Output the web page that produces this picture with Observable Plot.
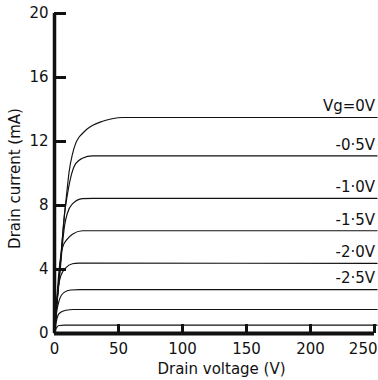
<!DOCTYPE html>
<html><head><meta charset="utf-8">
<script src="https://cdn.jsdelivr.net/npm/d3@7"></script>
<script src="https://cdn.jsdelivr.net/npm/@observablehq/plot@0.6"></script>
<style>body{margin:0;background:#fff;} svg{display:block}</style>
</head><body><div id="chart"></div>
<script>
// Gate voltages and curve labels
const gateVoltages = ["0", "-0.5", "-1.0", "-1.5", "-2.0", "-2.5", "-3.0", "-3.5"];
const curveLabels = ["Vg=0V", "-0·5V", "-1·0V", "-1·5V", "-2·0V", "-2·5V", "", ""];

// Drain voltage (V) / drain current (mA), one pair per curve
const v0 = [0, 2, 4.5, 6.5, 8.8, 10, 11.4, 14, 16.4, 19, 21.8, 25, 29.6, 37, 45, 53, 252];
const i0 = [0, 2, 4.3, 6.3, 8.2, 9.1, 10.1, 11.2, 11.85, 12.25, 12.5, 12.75, 13.0, 13.25, 13.42, 13.5, 13.5];
const v1 = [0, 2, 4.5, 6.5, 8.0, 9.3, 12.5, 16.4, 21.8, 29.6, 252];
const i1 = [0, 2, 4.3, 6.3, 7.6, 8.3, 9.7, 10.6, 10.95, 11.1, 11.1];
const v2 = [0, 2, 4.5, 6.5, 8, 10, 14, 21.8, 30, 252];
const i2 = [0, 1.9, 4.0, 5.8, 6.8, 7.5, 8.1, 8.43, 8.45, 8.45];
const v3 = [0, 1.5, 3.5, 6.2, 10, 14, 21.8, 252];
const i3 = [0, 1.8, 3.9, 5.36, 5.9, 6.2, 6.42, 6.42];
const v4 = [0, 1, 2.5, 4.9, 8.8, 14, 19, 252];
const i4 = [0, 1.3, 2.6, 3.6, 4.1, 4.36, 4.4, 4.38];
const v5 = [0, 1, 2, 3.6, 7.5, 12.7, 20, 252];
const i5 = [0, 0.9, 1.5, 2.05, 2.57, 2.72, 2.74, 2.74];
const v6 = [0, 1, 2, 3.6, 8.8, 15, 252];
const i6 = [0, 0.55, 0.95, 1.25, 1.45, 1.5, 1.5];
const v7 = [0, 1, 2, 3.6, 8, 252];
const i7 = [0, 0.28, 0.42, 0.5, 0.52, 0.52];

// Axis ticks and titles
const xTicks = [0, 50, 100, 150, 200, 250];
const yTicks = [0, 4, 8, 12, 16, 20];
const xTitle = "Drain voltage (V)";
const yTitle = "Drain current (mA)";

const voltages = [v0, v1, v2, v3, v4, v5, v6, v7];
const currents = [i0, i1, i2, i3, i4, i5, i6, i7];
const rows = [];
gateVoltages.forEach((vg, k) => {
  voltages[k].forEach((v, j) => rows.push({vg, label: curveLabels[k], v, i: currents[k][j]}));
});

const W = 378, H = 380, mL = 54, mR = 4, mT = 13, mB = 47;
const plotW = W - mL - mR, plotH = H - mT - mB;
const ink = "#111";
const lastX = xTicks[xTicks.length - 1];

const chart = Plot.plot({
  width: W, height: H,
  marginLeft: mL, marginRight: mR, marginTop: mT, marginBottom: mB,
  style: {fontFamily: "DejaVu Sans", fontSize: "15px", background: "#fff", color: ink},
  x: {domain: [0, 250]},
  y: {domain: [0, 20]},
  marks: [
    Plot.line(rows, {x: "v", y: "i", z: "vg", curve: "monotone-x", stroke: ink, strokeWidth: 1.15, clip: false}),
    Plot.text(rows.filter(d => d.label), Plot.selectLast({x: "v", y: "i", z: "vg", text: "label", textAnchor: "end", dy: -11, dx: -2, fill: ink, fontSize: 15})),
    Plot.ruleX([0], {stroke: ink, strokeWidth: 3.5}),
    Plot.ruleY([0], {stroke: ink, strokeWidth: 4}),
    Plot.tickY(yTicks.filter(d => d > 0), {y: d => d, insetRight: plotW - 12, stroke: ink, strokeWidth: 3}),
    Plot.tickX(xTicks.filter(d => d > 0), {x: d => d, insetTop: plotH - 9, stroke: ink, strokeWidth: 3}),
    Plot.axisY({ticks: yTicks, tickSize: 0, tickPadding: 6, label: null, fontSize: 15}),
    Plot.axisX({ticks: xTicks.filter(d => d < lastX), tickSize: 0, tickPadding: 10, label: null, fontSize: 15}),
    Plot.axisX({ticks: [lastX], tickSize: 0, tickPadding: 10, label: null, fontSize: 15, textAnchor: "end", dx: 3}),
    Plot.text([yTitle], {frameAnchor: "left", rotate: -90, dx: -39, dy: 5, textAnchor: "middle", lineAnchor: "middle", fill: ink, fontSize: 15}),
    Plot.text([xTitle], {frameAnchor: "bottom", dy: 36, dx: 7, textAnchor: "middle", lineAnchor: "middle", fill: ink, fontSize: 15})
  ]
});
document.getElementById("chart").appendChild(chart);
</script>
</body></html>
